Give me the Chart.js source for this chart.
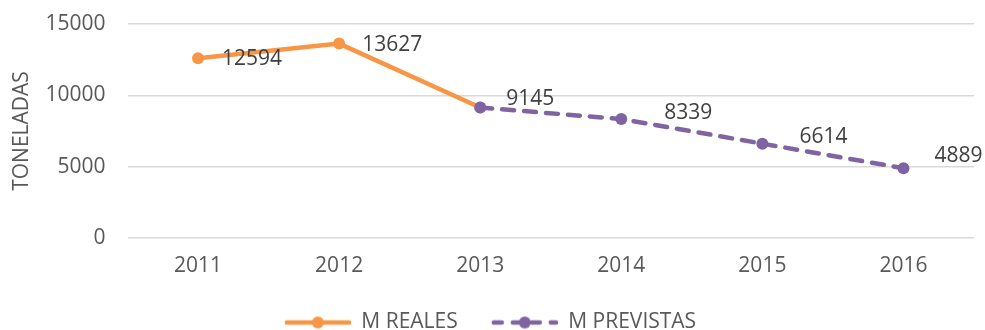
<!DOCTYPE html>
<html>
<head>
<meta charset="utf-8">
<script src="https://cdn.jsdelivr.net/npm/chart.js@4.4.1/dist/chart.umd.min.js"></script>
<style>
    html, body { margin: 0; padding: 0; background: #fff; }
    #wrap { width: 985px; height: 330px; position: relative; }
</style>
</head>
<body>
<div id="wrap"><canvas id="tonsChart"></canvas></div>
<script>
// Years and tonnages
const years = ['2011', '2012', '2013', '2014', '2015', '2016'];
const realTons = [12594, 13627, 9145, null, null, null];
const forecastTons = [null, null, 9145, 8339, 6614, 4889];
const yTicks = [0, 5000, 10000, 15000];

const ORANGE = '#F79646';
const PURPLE = '#8064A2';
const FONT = "'Open Sans', 'DejaVu Sans', sans-serif";
const FONT_SIZE = 21;

// Legend swatch: a short line with a round marker in the middle,
// with blank room on the left to space the items apart
function legendSwatch(color, dashed) {
    const c = document.createElement('canvas');
    c.width = 100;
    c.height = 16;
    const g = c.getContext('2d');
    g.strokeStyle = color;
    g.lineWidth = 4.5;
    g.lineCap = 'round';
    if (dashed) g.setLineDash([8, 11]);
    g.beginPath();
    g.moveTo(36, 8);
    g.lineTo(98, 8);
    g.stroke();
    g.fillStyle = color;
    g.beginPath();
    g.arc(67, 8, 6, 0, Math.PI * 2);
    g.fill();
    return c;
}

// Value labels next to each point (dx/dy per point index)
const valueLabels = {
    id: 'valueLabels',
    afterDatasetsDraw(chart, args, opts) {
        const ctx = chart.ctx;
        ctx.save();
        ctx.font = FONT_SIZE + 'px ' + FONT;
        ctx.fillStyle = '#404040';
        ctx.textAlign = 'left';
        ctx.textBaseline = 'middle';
        chart.data.datasets.forEach((ds, di) => {
            const meta = chart.getDatasetMeta(di);
            const shift = opts.shift[di];
            ds.data.forEach((v, i) => {
                if (v === null || !shift[i]) return;
                const p = meta.data[i];
                ctx.fillText(String(v), p.x + shift[i][0], p.y + shift[i][1]);
            });
        });
        ctx.restore();
    }
};

// Pull the centred legend a little to the left (the swatch margin pushes it right)
const legendNudge = {
    id: 'legendNudge',
    afterLayout(chart) {
        if (chart.legend) chart.legend.left -= 36;
    }
};

const ctx = document.getElementById('tonsChart').getContext('2d');
const tonsChart = new Chart(ctx, {
    type: 'line',
    data: {
        labels: years,
        datasets: [{
            label: 'M REALES',
            data: realTons,
            borderColor: ORANGE,
            backgroundColor: ORANGE,
            borderWidth: 4.5,
            pointRadius: 6,
            pointHoverRadius: 6,
            pointBorderWidth: 0,
            pointStyle: 'circle',
            tension: 0,
            order: 1,
            spanGaps: false
        }, {
            label: 'M PREVISTAS',
            data: forecastTons,
            borderColor: PURPLE,
            backgroundColor: PURPLE,
            borderWidth: 4.5,
            borderDash: [12, 10],
            borderCapStyle: 'round',
            pointRadius: 6,
            pointHoverRadius: 6,
            pointBorderWidth: 0,
            pointStyle: 'circle',
            tension: 0,
            order: 0,
            spanGaps: false
        }]
    },
    options: {
        responsive: true,
        maintainAspectRatio: false,
        animation: false,
        layout: { autoPadding: false, padding: { top: 24, right: 11, left: 9, bottom: -13 } },
        scales: {
            x: {
                offset: true,
                afterFit: axis => { axis.height = 74; },
                grid: { display: false, drawTicks: false },
                border: { display: false },
                ticks: { color: '#595959', font: { family: FONT, size: FONT_SIZE }, padding: 15 }
            },
            y: {
                min: 0,
                max: 15000,
                afterBuildTicks: axis => { axis.ticks = yTicks.map(v => ({ value: v })); },
                afterFit: axis => {
                    axis.width = 118.5;
                    axis.paddingTop = 0;
                    axis.paddingBottom = 0;
                },
                grid: { color: '#d9d9d9', lineWidth: 1.5, drawTicks: false },
                border: { display: false },
                ticks: {
                    color: '#595959',
                    font: { family: FONT, size: FONT_SIZE },
                    padding: 22,
                    callback: value => String(value)
                },
                title: {
                    display: true,
                    text: 'TONELADAS',
                    color: '#595959',
                    font: { family: FONT, size: FONT_SIZE },
                    padding: 0
                }
            }
        },
        plugins: {
            legend: {
                position: 'bottom',
                labels: {
                    usePointStyle: true,
                    pointStyleWidth: 100,
                    color: '#595959',
                    font: { family: FONT, size: FONT_SIZE },
                    padding: 0,
                    generateLabels: chart => chart.data.datasets.map((ds, i) => ({
                        text: ds.label,
                        fontColor: '#595959',
                        pointStyle: legendSwatch(ds.borderColor, i === 1),
                        datasetIndex: i,
                        lineWidth: 0,
                        strokeStyle: 'transparent',
                        fillStyle: ds.borderColor
                    }))
                }
            },
            tooltip: { enabled: false },
            valueLabels: {
                shift: [
                    [[24, 1], [23, 1], null, null, null, null],
                    [null, null, [26, -9], [43, -6], [37, -7], [31, -12]]
                ]
            }
        }
    },
    plugins: [valueLabels, legendNudge]
});
</script>
</body>
</html>
